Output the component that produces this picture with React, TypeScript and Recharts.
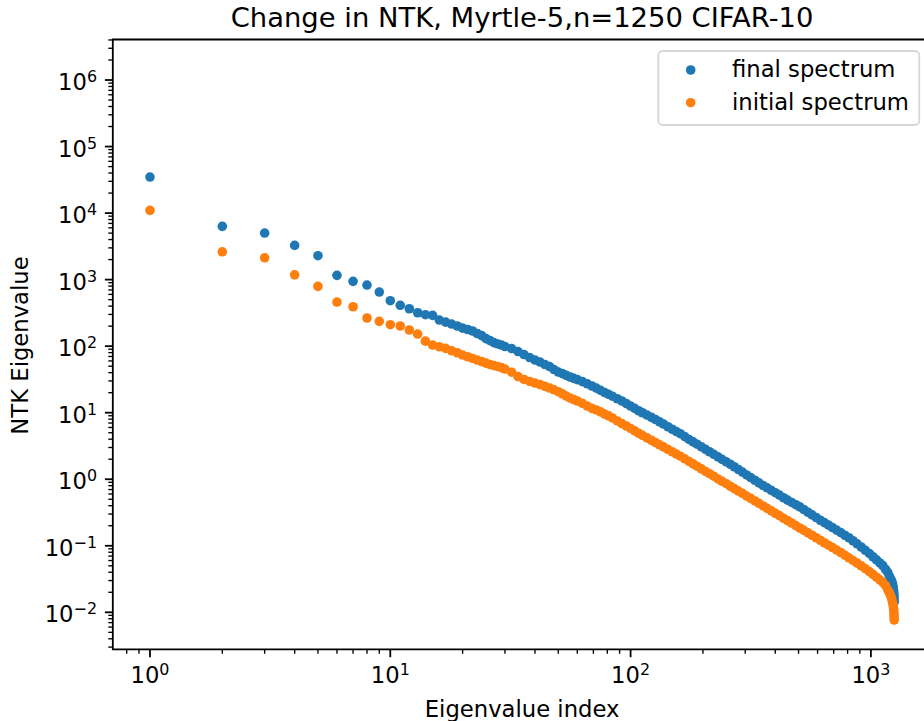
import React from 'react';
import { ScatterChart, Scatter, XAxis, YAxis, ReferenceArea } from 'recharts';

// ---------------- data ----------------
const indices = [
  1, 2, 3, 4, 5, 6, 7, 8, 9, 10, 11, 12, 13, 14, 15, 16, 17, 18, 19, 20,
  21, 22, 23, 24, 25, 26, 27, 28, 29, 30, 32, 34, 36, 38, 40, 42, 44, 46, 48, 50,
  52, 54, 56, 58, 60, 63, 66, 69, 72, 75, 78, 81, 84, 88, 92, 96, 100, 104, 108, 112,
  117, 122, 127, 132, 137, 143, 149, 155, 161, 168, 175, 182, 189, 197, 205, 213,
  222, 231, 240, 250, 260, 270, 281, 292, 304, 316, 329, 342, 356, 370, 385, 400,
  416, 433, 450, 468, 487, 506, 526, 547, 569, 592, 616, 640, 666, 692, 720, 749,
  779, 810, 842, 876, 911, 947, 985, 1020, 1055, 1090, 1120, 1150, 1175, 1195, 1210,
  1222, 1231, 1238, 1243, 1246, 1248, 1249, 1250,
];

const finalValues = [
  34800, 6320, 5010, 3270, 2290, 1160, 942, 829, 651, 482, 411, 365, 318, 297, 290, 247, 230, 215, 201, 187,
  178, 169, 155, 144, 130, 121, 113, 108, 104, 98.7, 92.1, 83.0, 74.8, 67.4, 61.8, 57.7, 52.9, 49.4, 44.5, 40.8,
  38.6, 36.4, 34.4, 32.8, 31.4, 29.3, 27.2, 25.2, 23.4, 21.7, 20.1, 18.9, 17.7, 16.2, 15.0, 13.7, 12.6, 11.6, 10.7, 9.98,
  9.22, 8.51, 7.89, 7.29, 6.76, 6.15, 5.64, 5.21, 4.83, 4.37, 3.96, 3.64, 3.36, 3.07, 2.81, 2.59,
  2.37, 2.17, 1.99, 1.83, 1.68, 1.54, 1.40, 1.28, 1.16, 1.06, 0.966, 0.883, 0.804, 0.743, 0.681, 0.627,
  0.577, 0.527, 0.485, 0.448, 0.414, 0.384, 0.351, 0.319, 0.291, 0.266, 0.242, 0.223, 0.204, 0.188, 0.172, 0.158,
  0.144, 0.132, 0.119, 0.107, 0.0958, 0.0857, 0.0767, 0.0684, 0.0613, 0.0552, 0.0505, 0.0444, 0.0399, 0.0348, 0.0316,
  0.0292, 0.0266, 0.0240, 0.0212, 0.0191, 0.0173, 0.0158, 0.0143,
];

const initialValues = [
  11000, 2620, 2130, 1180, 793, 460, 391, 265, 236, 210, 201, 175, 152, 119, 104, 98.0, 92.7, 85.3, 79.6, 73.6,
  69.3, 65.4, 61.8, 58.5, 55.6, 52.9, 51.1, 49.4, 47.6, 45.3, 40.6, 34.8, 31.6, 29.5, 27.9, 26.5, 24.9, 23.5, 22.1, 20.7,
  19.2, 17.8, 16.6, 15.8, 15.0, 13.8, 12.6, 11.6, 11.0, 10.3, 9.51, 8.97, 8.34, 7.52, 6.87, 6.31, 5.80, 5.34, 4.91, 4.57,
  4.18, 3.84, 3.56, 3.29, 3.06, 2.81, 2.59, 2.39, 2.22, 2.03, 1.85, 1.70, 1.57, 1.43, 1.31, 1.21,
  1.11, 1.01, 0.933, 0.856, 0.785, 0.722, 0.665, 0.612, 0.559, 0.515, 0.472, 0.435, 0.397, 0.365, 0.335, 0.308,
  0.284, 0.259, 0.239, 0.220, 0.201, 0.185, 0.171, 0.156, 0.144, 0.132, 0.121, 0.111, 0.102, 0.0941, 0.0863, 0.0791,
  0.0721, 0.0659, 0.0602, 0.0548, 0.0500, 0.0453, 0.0410, 0.0371, 0.0337, 0.0307, 0.0282, 0.0251, 0.0218, 0.0195, 0.0175,
  0.0156, 0.0140, 0.0126, 0.0114, 0.0103, 0.00926, 0.00850, 0.00766,
];

const seriesNames = ['final spectrum', 'initial spectrum'];
const seriesColors = ['#1f77b4', '#ff7f0e'];

const xTicks = [
  0.8, 0.9, 1, 2, 3, 4, 5, 6, 7, 8, 9, 10, 20, 30, 40, 50, 60, 70, 80, 90,
  100, 200, 300, 400, 500, 600, 700, 800, 900, 1000,
];
const yTicks = [
  0.003, 0.004, 0.005, 0.006, 0.007, 0.008, 0.009, 0.01,
  0.02, 0.03, 0.04, 0.05, 0.06, 0.07, 0.08, 0.09, 0.1,
  0.2, 0.3, 0.4, 0.5, 0.6, 0.7, 0.8, 0.9, 1,
  2, 3, 4, 5, 6, 7, 8, 9, 10,
  20, 30, 40, 50, 60, 70, 80, 90, 100,
  200, 300, 400, 500, 600, 700, 800, 900, 1000,
  2000, 3000, 4000, 5000, 6000, 7000, 8000, 9000, 10000,
  20000, 30000, 40000, 50000, 60000, 70000, 80000, 90000, 100000,
  200000, 300000, 400000, 500000, 600000, 700000, 800000, 900000, 1000000,
  2000000, 3000000, 4000000,
];

const title = 'Change in NTK, Myrtle-5,n=1250 CIFAR-10';
const xLabel = 'Eigenvalue index';
const yLabel = 'NTK Eigenvalue';

// ---------------- layout ----------------
const X_MIN = 0.7003;
const X_MAX = 1785.6;
const Y_MIN = 0.00278;
const Y_MAX = 4.064e6;
const FONT = '"DejaVu Sans", "Liberation Sans", sans-serif';
const LABEL_SIZE = 22.7;
const SUP_SIZE = 15.9;
const DOT_R = 4.8;

const expText = (e: number) => (e < 0 ? '\u2212' + Math.abs(e) : String(e));

const isMajor = (v: number) => {
  const lg = Math.log10(v);
  return Math.abs(lg - Math.round(lg)) < 1e-6;
};

const XTick = (props: any) => {
  const { x, y, payload } = props;
  const v = payload.value;
  const major = isMajor(v);
  const e = Math.round(Math.log10(v));
  return (
    <g>
      <line x1={x} x2={x} y1={y} y2={y + (major ? 7.9 : 4.5)} stroke="#000" strokeWidth={major ? 1.8 : 1.35} />
      {major && (
        <text x={x} y={y + 34} textAnchor="middle" fontFamily={FONT} fontSize={LABEL_SIZE} fill="#000">
          10
          <tspan dy={-7.9} fontSize={SUP_SIZE}>{expText(e)}</tspan>
        </text>
      )}
    </g>
  );
};

const YTick = (props: any) => {
  const { x, y, payload } = props;
  const v = payload.value;
  const major = isMajor(v);
  const e = Math.round(Math.log10(v));
  return (
    <g>
      <line x1={x - (major ? 7.9 : 4.5)} x2={x} y1={y} y2={y} stroke="#000" strokeWidth={major ? 1.8 : 1.35} />
      {major && (
        <text x={x - 15.8} y={y + 10} textAnchor="end" fontFamily={FONT} fontSize={LABEL_SIZE} fill="#000">
          10
          <tspan dy={-7.9} fontSize={SUP_SIZE}>{expText(e)}</tspan>
        </text>
      )}
    </g>
  );
};

const dotShape = (color: string) => (p: any) => (
  <circle cx={p.cx} cy={p.cy} r={DOT_R} fill={color} stroke="none" />
);

export default function App() {
  const finalData = indices.map((idx, k) => ({ index: idx, value: finalValues[k] }));
  const initialData = indices.map((idx, k) => ({ index: idx, value: initialValues[k] }));

  return (
    <div
      style={{
        position: 'absolute',
        left: 0,
        top: 0,
        width: 924,
        height: 721,
        overflow: 'hidden',
        background: '#ffffff',
      }}
    >
      <ScatterChart width={940} height={721} margin={{ top: 39.5, right: 8.6, bottom: 41.7, left: 0 }}>
        <XAxis
          type="number"
          dataKey="index"
          scale="log"
          domain={[X_MIN, X_MAX]}
          allowDataOverflow
          ticks={xTicks}
          interval={0}
          tick={(p: any) => <XTick {...p} />}
          tickLine={false}
          axisLine={false}
          tickSize={0}
          tickMargin={0}
          height={30}
        />
        <YAxis
          type="number"
          dataKey="value"
          scale="log"
          domain={[Y_MIN, Y_MAX]}
          allowDataOverflow
          ticks={yTicks}
          interval={0}
          tick={(p: any) => <YTick {...p} />}
          tickLine={false}
          axisLine={false}
          tickSize={0}
          tickMargin={0}
          width={112.8}
        />
        <ReferenceArea
          x1={X_MIN}
          x2={X_MAX}
          y1={Y_MIN}
          y2={Y_MAX}
          fill="none"
          stroke="#000"
          strokeWidth={1.8}
          ifOverflow="visible"
        />
        <Scatter
          name={seriesNames[0]}
          data={finalData}
          fill={seriesColors[0]}
          isAnimationActive={false}
          shape={dotShape(seriesColors[0])}
        />
        <Scatter
          name={seriesNames[1]}
          data={initialData}
          fill={seriesColors[1]}
          isAnimationActive={false}
          shape={dotShape(seriesColors[1])}
        />
      </ScatterChart>
      <svg
        width={924}
        height={721}
        style={{ position: 'absolute', left: 0, top: 0, pointerEvents: 'none' }}
      >
        <text x={522.1} y={27.3} textAnchor="middle" fontFamily={FONT} fontSize={27.4} fill="#000">
          {title}
        </text>
        <text x={522.1} y={716.7} textAnchor="middle" fontFamily={FONT} fontSize={LABEL_SIZE} fill="#000">
          {xLabel}
        </text>
        <text
          transform="translate(28.3, 345.5) rotate(-90)"
          textAnchor="middle"
          fontFamily={FONT}
          fontSize={LABEL_SIZE}
          fill="#000"
        >
          {yLabel}
        </text>
        <g>
          <rect x={658.3} y={51} width={261} height={74} rx={4.5} ry={4.5} fill="#ffffff" fillOpacity={0.8} stroke="#d6d6d6" strokeWidth={1.8} />
          <circle cx={690.7} cy={70} r={DOT_R} fill={seriesColors[0]} />
          <text x={732} y={77.4} fontFamily={FONT} fontSize={LABEL_SIZE} fill="#000">{seriesNames[0]}</text>
          <circle cx={690.7} cy={102.7} r={DOT_R} fill={seriesColors[1]} />
          <text x={732} y={109.8} fontFamily={FONT} fontSize={LABEL_SIZE} fill="#000">{seriesNames[1]}</text>
        </g>
      </svg>
    </div>
  );
}
